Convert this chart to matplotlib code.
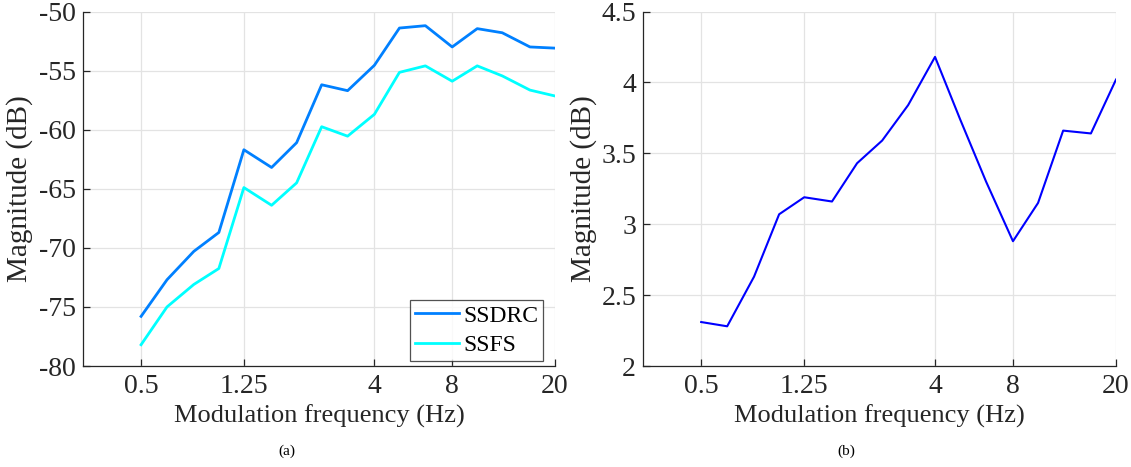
import matplotlib.pyplot as plt
import numpy as np

plt.rcParams['font.family'] = ['Liberation Serif', 'DejaVu Serif']
plt.rcParams['axes.unicode_minus'] = False

# third-octave modulation bands
freqs = [0.5, 0.63, 0.8, 1.0, 1.25, 1.6, 2.0, 2.5, 3.15, 4, 5, 6.3, 8, 10, 12.5, 16, 20]
ssdrc = [-75.8, -72.7, -70.3, -68.7, -61.7, -63.2, -61.1, -56.2, -56.7, -54.55,
         -51.4, -51.2, -53.0, -51.45, -51.8, -53.0, -53.1]
ssfs = [-78.2, -75.0, -73.1, -71.75, -64.9, -66.4, -64.5, -59.75, -60.55, -58.7,
        -55.15, -54.6, -55.9, -54.6, -55.45, -56.65, -57.15]
diff = [2.31, 2.28, 2.63, 3.07, 3.19, 3.16, 3.43, 3.59, 3.84, 4.18,
        3.74, 3.30, 2.88, 3.15, 3.66, 3.64, 4.02]
xticks = [0.5, 1.25, 4, 8, 20]
xticklabels = ['0.5', '1.25', '4', '8', '20']

W, H = 1131, 467
fig = plt.figure(figsize=(W/100, H/100), dpi=100)
ax1 = fig.add_axes([83/W, 101/H, 472/W, 354.5/H])
ax2 = fig.add_axes([643/W, 101/H, 473/W, 354.5/H])

txt = '#262626'

def style(ax, ylab_x):
    ax.set_xscale('log')
    ax.set_xlim(0.298, 20)
    ax.set_xticks(xticks)
    ax.set_xticklabels(xticklabels)
    ax.minorticks_off()
    ax.grid(True, color='#e3e3e3', linewidth=0.9)
    ax.set_axisbelow(True)
    for s in ['top', 'right']:
        ax.spines[s].set_visible(False)
    for s in ['left', 'bottom']:
        ax.spines[s].set_color(txt)
        ax.spines[s].set_linewidth(0.9)
    ax.tick_params(direction='in', length=5, width=0.9, color=txt,
                   labelsize=20, labelcolor=txt)
    ax.tick_params(axis='x', pad=6)
    ax.tick_params(axis='y', pad=5)
    ax.set_xlabel('Modulation frequency (Hz)', fontsize=19, color=txt, labelpad=4)
    ax.set_ylabel('Magnitude (dB)', fontsize=21, color=txt)
    ax.yaxis.set_label_coords(ylab_x, 0.5)

ax1.plot(freqs, ssdrc, color='#0080ff', linewidth=2.0, label='SSDRC')
ax1.plot(freqs, ssfs, color='#00ffff', linewidth=2.0, label='SSFS')
style(ax1, -0.106)
ax1.set_ylim(-80, -50)
ax1.set_yticks([-80, -75, -70, -65, -60, -55, -50])
leg = ax1.legend(loc='lower right', bbox_to_anchor=(0.975, 0.014), fontsize=17,
                 frameon=True, fancybox=False, edgecolor=txt, handlelength=1.86,
                 borderaxespad=0, labelspacing=0.35, handletextpad=0.2,
                 borderpad=0.2)
leg.get_frame().set_linewidth(0.9)

ax2.plot(freqs, diff, color='#0000ff', linewidth=1.5)
style(ax2, -0.097)
ax2.set_ylim(2, 4.5)
ax2.set_yticks([2, 2.5, 3, 3.5, 4, 4.5])
ax2.set_yticklabels(['2', '2.5', '3', '3.5', '4', '4.5'])

fig.text(287/W, 1 - 451/H, '(a)', fontsize=11, ha='center', va='center', color='black')
fig.text(846/W, 1 - 451/H, '(b)', fontsize=11, ha='center', va='center', color='black')

fig.savefig('out.png', dpi=100)
